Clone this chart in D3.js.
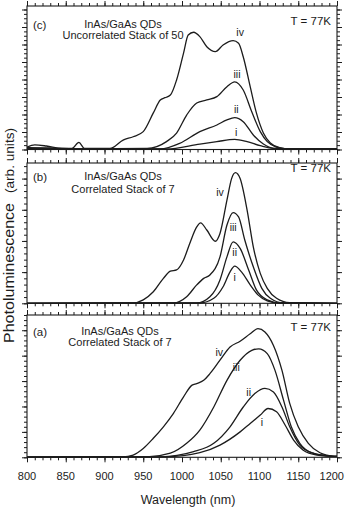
<!DOCTYPE html>
<html><head><meta charset="utf-8">
<script src="https://cdn.jsdelivr.net/npm/d3@7"></script>
<style>
html,body{margin:0;padding:0;background:#fff;}
svg{display:block;font-family:"Liberation Sans",Arial,Helvetica,sans-serif;}
</style></head>
<body><svg id="chart" width="345" height="513"></svg>
<script>
// ---------- data (wavelength nm, PL arb. units) ----------
const wavelengthTicks = [800, 850, 900, 950, 1000, 1050, 1100, 1150, 1200];
const xTickLabels = ["800","850","900","950","1000","1050","1100","1150","1200"];

// panel (c) Uncorrelated stack of 50
const cIV = [[800,0.14],[810,0.26],[825,0.2],[845,0.06],[858,0.06],[867,0.41],[874,0.07],[907,0.06],[924,0.54],[937,0.73],[950,1.02],[963,2.09],[972,2.83],[978,2.96],[985,3.11],[993,3.97],[1002,5.51],[1008,6.54],[1015,6.70],[1023,6.45],[1032,5.87],[1043,5.59],[1053,5.97],[1066,6.22],[1073,6.07],[1079,5.30],[1088,3.59],[1096,2.09],[1105,0.94],[1114,0.37],[1126,0.10],[1139,0.03],[1200,0.03]];
const cIII = [[800,0.11],[830,0.09],[870,0.03],[955,0.06],[980,0.45],[993,0.94],[1006,1.97],[1019,2.66],[1032,2.83],[1045,3.02],[1058,3.59],[1068,3.87],[1079,3.40],[1090,2.16],[1101,1.02],[1110,0.45],[1122,0.13],[1135,0.03],[1200,0.03]];
const cII = [[800,0.05],[972,0.03],[997,0.35],[1023,1.02],[1045,1.40],[1058,1.69],[1068,1.82],[1079,1.59],[1092,0.83],[1105,0.31],[1118,0.07],[1200,0.03]];
const cI = [[800,0.04],[980,0.03],[1023,0.31],[1045,0.45],[1068,0.58],[1084,0.45],[1101,0.22],[1118,0.07],[1200,0.03]];

// panel (b) Correlated stack of 7
const bIV = [[800,0],[937,0.01],[950,0.11],[963,0.37],[976,0.80],[985,1.03],[993,1.07],[1002,1.39],[1010,1.92],[1019,2.45],[1024,2.58],[1032,2.35],[1043,1.99],[1049,2.24],[1058,3.31],[1064,4.00],[1069,4.19],[1075,4.00],[1084,2.99],[1092,1.81],[1101,0.96],[1110,0.48],[1122,0.16],[1139,0.02],[1200,0]];
const bIII = [[800,0],[989,0.01],[1006,0.21],[1019,0.59],[1028,0.80],[1036,0.91],[1049,1.49],[1058,2.51],[1066,2.91],[1073,2.77],[1081,2.03],[1092,1.17],[1103,0.48],[1114,0.16],[1131,0.01],[1200,0]];
const bII = [[800,0],[1019,0.01],[1036,0.21],[1049,0.75],[1058,1.49],[1066,1.97],[1075,1.76],[1086,1.07],[1096,0.43],[1110,0.11],[1126,0.01],[1200,0]];
const bI = [[800,0],[1023,0.01],[1041,0.16],[1053,0.53],[1062,1.01],[1068,1.19],[1077,1.00],[1088,0.59],[1098,0.27],[1110,0.08],[1126,0.01],[1200,0]];

// panel (a) Correlated stack of 7
const aIV = [[800,0.02],[924,0.02],[937,0.09],[950,0.35],[963,0.75],[976,1.20],[989,1.73],[1002,2.38],[1013,2.84],[1019,2.90],[1028,3.03],[1036,3.29],[1049,3.82],[1062,4.34],[1075,4.57],[1088,4.86],[1098,5.06],[1107,4.93],[1118,4.40],[1129,3.42],[1139,2.12],[1150,1.20],[1163,0.55],[1178,0.18],[1195,0.05],[1200,0.04]];
const aIII = [[800,0.01],[958,0.03],[985,0.16],[1006,0.55],[1023,1.07],[1041,1.98],[1058,3.03],[1075,3.82],[1090,4.21],[1099,4.27],[1110,4.08],[1120,3.42],[1131,2.25],[1141,1.20],[1152,0.55],[1169,0.16],[1191,0.05],[1200,0.04]];
const aII = [[800,0.01],[972,0.02],[1015,0.22],[1041,0.55],[1062,1.20],[1079,1.98],[1094,2.51],[1107,2.71],[1118,2.57],[1129,1.98],[1139,1.20],[1152,0.48],[1169,0.16],[1191,0.05],[1200,0.04]];
const aI = [[800,0.01],[980,0.02],[1023,0.18],[1049,0.48],[1075,1.00],[1088,1.33],[1101,1.66],[1111,1.92],[1122,1.79],[1133,1.27],[1144,0.68],[1156,0.29],[1174,0.09],[1195,0.04],[1200,0.04]];

const seriesNames = ["i","ii","iii","iv"];
// curve label anchor points [nm, value]
const cLabels = [[1070,0.94],[1070,2.26],[1071,4.26],[1075,6.66]];
const bLabels = [[1068,0.81],[1068,1.61],[1066,2.41],[1049,3.53]];
const aLabels = [[1103,1.35],[1086,2.51],[1070,3.50],[1048,4.09]];

const panelTags = ["(c)","(b)","(a)"];
const titleLine1 = "InAs/GaAs QDs";
const titleLine2 = ["Uncorrelated Stack of 50","Correlated Stack of 7","Correlated Stack of 7"];
const tempLabel = "T = 77K";
const yMax = [8.2, 4.5, 5.6];

// ---------- layout ----------
const svg = d3.select("#chart");
const L = 27, R = 337;
const layout = [
  {top:6, bottom:149.5, series:[cI,cII,cIII,cIV], labels:cLabels, minor:0.25, tagY:28.5, t1Y:28, t2Y:39, cx:123, tY:25},
  {top:163, bottom:303.3, series:[bI,bII,bIII,bIV], labels:bLabels, minor:0.2, tagY:181, t1Y:180, t2Y:192.5, cx:123, tY:172},
  {top:315, bottom:457.3, series:[aI,aII,aIII,aIV], labels:aLabels, minor:0.2, tagY:336, t1Y:335, t2Y:346, cx:120, tY:331}
];

const x = d3.scaleLinear().domain([800,1200]).range([L,R]);
const minorX = d3.range(800, 1201, 10);
const ink = "#1c1c1c";

layout.forEach((p, i) => {
  const y = d3.scaleLinear().domain([0, yMax[i]]).range([p.bottom, p.top]);
  const g = svg.append("g");
  const majorY = d3.range(0, yMax[i] + 1e-9, 1);
  const minorY = d3.range(0, yMax[i] + 1e-9, p.minor).map(v => +v.toFixed(3));

  const styleAxis = sel => {
    sel.select(".domain").remove();
    sel.selectAll("line").attr("stroke", ink).attr("stroke-width", 1);
    sel.selectAll("text").remove();
  };
  g.append("g").attr("transform", `translate(0,${p.bottom})`)
    .call(d3.axisBottom(x).tickValues(minorX).tickSize(3).tickFormat("")).call(styleAxis);
  g.append("g").attr("transform", `translate(0,${p.bottom})`)
    .call(d3.axisBottom(x).tickValues(wavelengthTicks).tickSize(5).tickFormat("")).call(styleAxis);
  g.append("g").attr("transform", `translate(0,${p.top})`)
    .call(d3.axisTop(x).tickValues(minorX).tickSize(3).tickFormat("")).call(styleAxis);
  g.append("g").attr("transform", `translate(0,${p.top})`)
    .call(d3.axisTop(x).tickValues(wavelengthTicks).tickSize(5).tickFormat("")).call(styleAxis);
  g.append("g").attr("transform", `translate(${L},0)`)
    .call(d3.axisLeft(y).tickValues(minorY).tickSize(3).tickFormat("")).call(styleAxis);
  g.append("g").attr("transform", `translate(${L},0)`)
    .call(d3.axisLeft(y).tickValues(majorY).tickSize(5).tickFormat("")).call(styleAxis);
  g.append("g").attr("transform", `translate(${R},0)`)
    .call(d3.axisRight(y).tickValues(minorY).tickSize(3).tickFormat("")).call(styleAxis);
  g.append("g").attr("transform", `translate(${R},0)`)
    .call(d3.axisRight(y).tickValues(majorY).tickSize(5).tickFormat("")).call(styleAxis);

  g.append("rect").attr("x", L).attr("y", p.top).attr("width", R - L).attr("height", p.bottom - p.top)
    .attr("fill", "none").attr("stroke", ink).attr("stroke-width", 1.1);

  const line = d3.line().x(d => x(d[0])).y(d => y(d[1])).curve(d3.curveMonotoneX);
  p.series.forEach(s => {
    g.append("path").datum(s).attr("d", line)
      .attr("fill", "none").attr("stroke", ink).attr("stroke-width", 1.3).attr("stroke-linejoin", "round");
  });
  p.labels.forEach((d, k) => {
    g.append("text").attr("x", x(d[0])).attr("y", y(d[1])).attr("text-anchor", "middle")
      .attr("dominant-baseline", "middle").attr("font-size", 10.5).attr("fill", ink).text(seriesNames[k]);
  });
  g.append("text").attr("x", 33).attr("y", p.tagY).attr("font-size", 11.5).attr("fill", ink).text(panelTags[i]);
  g.append("text").attr("x", p.cx).attr("y", p.t1Y).attr("text-anchor", "middle").attr("font-size", 11).attr("fill", ink).text(titleLine1);
  g.append("text").attr("x", p.cx).attr("y", p.t2Y).attr("text-anchor", "middle").attr("font-size", 11).attr("fill", ink).text(titleLine2[i]);
  g.append("text").attr("x", 331).attr("y", p.tY).attr("text-anchor", "end").attr("font-size", 11.5).attr("fill", ink).text(tempLabel);
});

// x tick labels (bottom panel only); last one kept inside the page edge
svg.append("g").selectAll("text").data(wavelengthTicks).join("text")
  .attr("x", d => d === 1200 ? 344 : x(d)).attr("y", 480)
  .attr("text-anchor", d => d === 1200 ? "end" : "middle")
  .attr("font-size", 11).attr("fill", ink).text((d, k) => xTickLabels[k]);

svg.append("text").attr("x", 188).attr("y", 504).attr("text-anchor", "middle")
  .attr("font-size", 12.5).attr("fill", ink).text("Wavelength (nm)");
svg.append("text").attr("transform", "translate(14,343) rotate(-90)")
  .attr("text-anchor", "start").attr("font-size", 14).attr("fill", ink)
  .attr("textLength", 140).attr("lengthAdjust", "spacingAndGlyphs").text("Photoluminescence");
svg.append("text").attr("transform", "translate(14,193) rotate(-90)")
  .attr("text-anchor", "start").attr("font-size", 13).attr("fill", ink)
  .attr("textLength", 65).attr("lengthAdjust", "spacingAndGlyphs").text("(arb. units)");
</script></body></html>
